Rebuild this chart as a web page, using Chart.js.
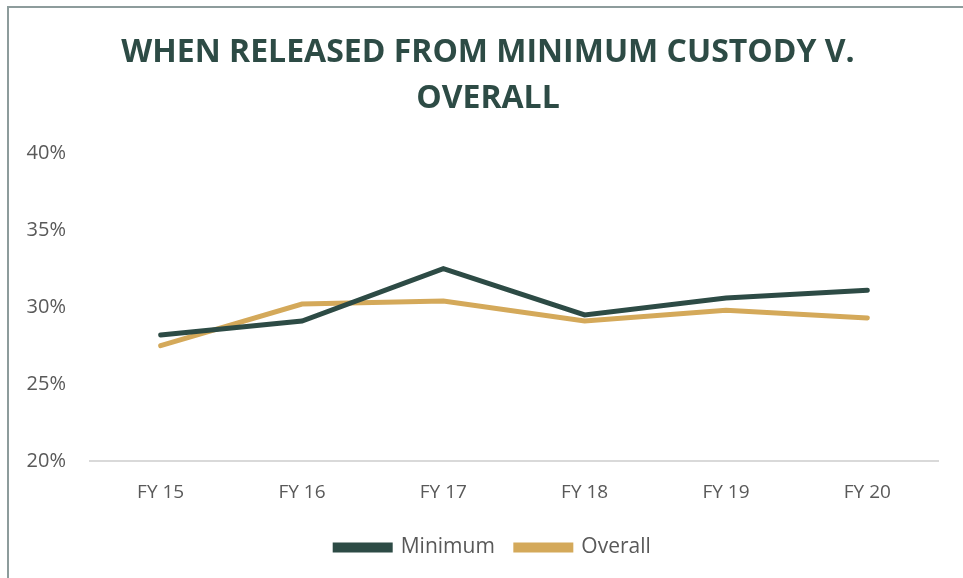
<!DOCTYPE html>
<html>
<head>
<meta charset="utf-8">
<script src="https://cdn.jsdelivr.net/npm/chart.js@4.4.1/dist/chart.umd.min.js"></script>
<style>
  html, body { margin: 0; padding: 0; background: #fff; overflow: hidden; }
  #wrap { position: relative; width: 963px; height: 578px; }
  #frame { position: absolute; left: 7px; top: 6px; width: 1000px; height: 700px; border: 2px solid #8d9c9c; box-sizing: border-box; }
  #newChart { position: absolute; left: 0; top: 0; }
</style>
</head>
<body>
<div id="wrap">
  <div id="frame"></div>
  <canvas id="newChart" width="963" height="578"></canvas>
</div>
<script>
// Data
const years = ['FY 15', 'FY 16', 'FY 17', 'FY 18', 'FY 19', 'FY 20'];
const minimumValues = [28.2, 29.1, 32.5, 29.5, 30.6, 31.1];
const overallValues = [27.5, 30.2, 30.4, 29.1, 29.8, 29.3];
const yTicks = [20, 25, 30, 35, 40];

const darkGreen = '#2d4b45';
const gold = '#d4a95a';
const labelGray = '#595959';

const ctx = document.getElementById('newChart').getContext('2d');

// nudge the title and legend a bit right of centre, like the original
const boxShift = {
  id: 'boxShift',
  afterLayout(chart) {
    chart.legend.left += 24;
    chart.legend.right += 24;
    chart.titleBlock.left += 19;
    chart.titleBlock.right += 19;
  }
};

let myChart = new Chart(ctx, {
  type: 'line',
  data: {
    labels: years,
    datasets: [
      {
        label: 'Minimum',
        data: minimumValues,
        borderColor: darkGreen,
        backgroundColor: darkGreen,
        borderWidth: 5,
        pointRadius: 0,
        borderCapStyle: 'round',
        tension: 0
      },
      {
        label: 'Overall',
        data: overallValues,
        borderColor: gold,
        backgroundColor: gold,
        borderWidth: 5,
        pointRadius: 0,
        borderCapStyle: 'round',
        tension: 0
      }
    ]
  },
  plugins: [boxShift],
  options: {
    responsive: false,
    animation: false,
    layout: { padding: { left: 0, right: 25, top: 0, bottom: 10 } },
    scales: {
      x: {
        offset: true,
        grid: { display: false },
        border: { display: true, color: '#d9d9d9', width: 2 },
        ticks: { color: labelGray, font: { family: 'Open Sans', size: 19 }, padding: 12 }
      },
      y: {
        min: 20,
        max: 40,
        afterBuildTicks: function(scale) {
          scale.ticks = yTicks.map(v => ({ value: v }));
        },
        afterFit: function(scale) { scale.width = 90; },
        grid: { display: false },
        border: { display: false },
        ticks: {
          color: labelGray,
          font: { family: 'Open Sans', size: 20 },
          padding: 16,
          callback: v => v + '%'
        }
      }
    },
    plugins: {
      title: {
        display: true,
        text: ['WHEN RELEASED FROM MINIMUM CUSTODY V.', 'OVERALL'],
        color: darkGreen,
        font: { family: 'Open Sans', size: 32, weight: 'bold', lineHeight: 1.44 },
        padding: { top: 30, bottom: 31 }
      },
      legend: {
        position: 'bottom',
        labels: {
          color: labelGray,
          font: { family: 'Open Sans', size: 21 },
          boxWidth: 55,
          boxHeight: 5,
          padding: 21
        }
      },
      tooltip: { enabled: false }
    }
  }
});
</script>
</body>
</html>
